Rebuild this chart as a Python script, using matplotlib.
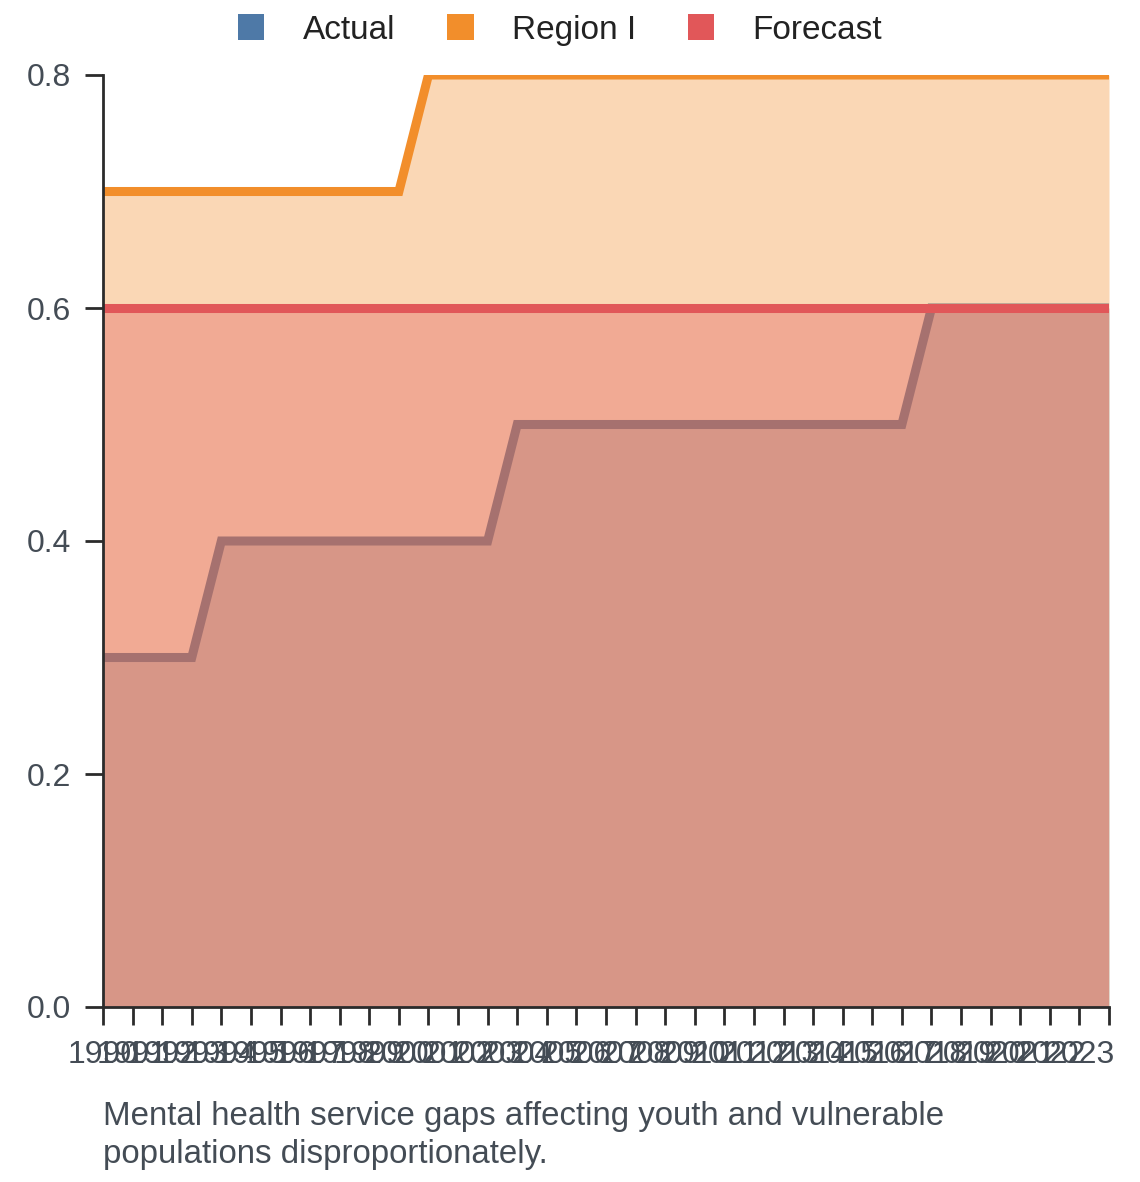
import matplotlib
matplotlib.use("Agg")
import matplotlib.pyplot as plt
from matplotlib.patches import Patch
import numpy as np

plt.rcParams['font.family'] = ['Liberation Sans', 'DejaVu Sans']

years = list(range(1990, 2025))
actual = [0.3] * 4 + [0.4] * 10 + [0.5] * 14 + [0.6] * 7
region_i = [0.7] * 11 + [0.8] * 24
forecast = [0.6] * 35

series_names = ['Actual', 'Region I', 'Forecast']
series_values = [actual, region_i, forecast]
colors = ['#4e79a7', '#f28e2b', '#e15759']
# last tick is the axis end, it has no label
tick_labels = [str(y) for y in years[:-1]] + ['']
caption = ("Mental health service gaps affecting youth and vulnerable\n"
           "populations disproportionately.")

text_color = '#444c55'
axis_color = '#2b2b2b'

fig = plt.figure(figsize=(11.4, 11.82), dpi=100)
ax = fig.add_axes([103 / 1140, 1 - 1007 / 1182, (1109 - 103) / 1140, (1007 - 75) / 1182])

x = np.array(years)
for i, (vals, col) in enumerate(zip(series_values, colors)):
    ax.fill_between(x, 0, vals, color=col, alpha=0.35, linewidth=0, zorder=2 + 2 * i)
    ax.plot(x, vals, color=col, linewidth=6.5, solid_joinstyle='miter', zorder=3 + 2 * i)

ax.set_xlim(1990, 2024)
ax.set_ylim(0, 0.8)
ax.set_yticks([0.0, 0.2, 0.4, 0.6, 0.8])
ax.set_yticklabels(['0.0', '0.2', '0.4', '0.6', '0.8'])
ax.set_xticks(years)
ax.set_xticklabels(tick_labels)

for side in ['top', 'right']:
    ax.spines[side].set_visible(False)
for side in ['left', 'bottom']:
    ax.spines[side].set_color(axis_color)
    ax.spines[side].set_linewidth(2)
    ax.spines[side].set_zorder(10)

ax.tick_params(axis='both', direction='out', length=13, width=2, color=axis_color,
               labelsize=23, labelcolor=text_color)
ax.tick_params(axis='x', pad=11)
ax.tick_params(axis='y', pad=10)

handles = [Patch(facecolor=c, edgecolor='none') for c in colors]
fig.legend(handles, series_names, loc='center', ncol=3, frameon=False,
           bbox_to_anchor=(560 / 1140, 1 - 30 / 1182), fontsize=24,
           handlelength=0.8, handleheight=0.8, handletextpad=1.15,
           columnspacing=1.55, labelcolor='#222222')

fig.text(103 / 1140, 1 - 1101 / 1182, caption, fontsize=23.8, color=text_color,
         va='top', ha='left', linespacing=1.3)

fig.savefig('out.png', dpi=100)
